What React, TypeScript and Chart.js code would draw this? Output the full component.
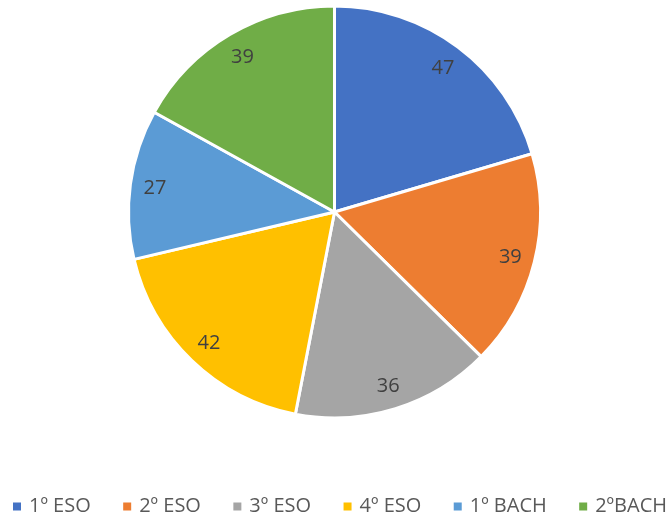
import React, { useEffect, useRef } from "react";
import { Chart, registerables } from "chart.js";

Chart.register(...registerables);

const categories = ["1º ESO", "2º ESO", "3º ESO", "4º ESO", "1º BACH", "2ºBACH"];
const values = [47, 39, 36, 42, 27, 39];
const colors = ["#4472C4", "#ED7D31", "#A5A5A5", "#FFC000", "#5B9BD5", "#70AD47"];

const FONT = "'Open Sans', sans-serif";

const labelPlugin = {
  id: "sliceLabels",
  afterDatasetsDraw(chart: any) {
    const ctx = chart.ctx;
    const meta = chart.getDatasetMeta(0);
    ctx.save();
    ctx.fillStyle = "#404040";
    ctx.font = `20px ${FONT}`;
    ctx.textAlign = "center";
    ctx.textBaseline = "middle";
    meta.data.forEach((arc: any, i: number) => {
      const { x, y, startAngle, endAngle, outerRadius } = arc.getProps(
        ["x", "y", "startAngle", "endAngle", "outerRadius"],
        true
      );
      const mid = (startAngle + endAngle) / 2;
      const r = outerRadius * 0.88;
      ctx.fillText(String(values[i]), x + Math.cos(mid) * r, y + Math.sin(mid) * r + 1);
    });
    ctx.restore();
  },
};

const legendPlugin = {
  id: "customLegend",
  afterDraw(chart: any) {
    const ctx = chart.ctx;
    ctx.save();
    ctx.font = `20px ${FONT}`;
    ctx.textBaseline = "middle";
    ctx.textAlign = "left";
    const box = 8;
    const gapText = 8;
    const widths = categories.map((c) => box + gapText + ctx.measureText(c).width);
    const totalSpan = 654;
    const sum = widths.reduce((a, b) => a + b, 0);
    const gap = (totalSpan - sum) / (categories.length - 1);
    let x = 340 - totalSpan / 2;
    const yc = 506.5;
    categories.forEach((c, i) => {
      ctx.fillStyle = colors[i];
      ctx.fillRect(x, yc - box / 2, box, box);
      ctx.fillStyle = "#595959";
      ctx.fillText(c, x + box + gapText, yc);
      x += widths[i] + gap;
    });
    ctx.restore();
  },
};

export default function App() {
  const ref = useRef<HTMLCanvasElement>(null);
  useEffect(() => {
    document.body.style.margin = "0";
    const chart = new Chart(ref.current!, {
      type: "pie",
      data: {
        labels: categories,
        datasets: [
          {
            data: values,
            backgroundColor: colors,
            borderColor: "#ffffff",
            borderWidth: 3,
          },
        ],
      },
      options: {
        animation: false,
        responsive: false,
        radius: 206,
        layout: { padding: { top: 6, bottom: 99, left: 0, right: 2 } },
        plugins: {
          tooltip: { enabled: false },
          legend: { display: false },
        },
      },
      plugins: [labelPlugin, legendPlugin],
    });
    return () => chart.destroy();
  }, []);
  return (
    <div style={{ position: "absolute", left: 0, top: 0, width: 671, height: 517 }}>
      <canvas ref={ref} width={671} height={517} style={{ width: 671, height: 517 }} />
    </div>
  );
}
